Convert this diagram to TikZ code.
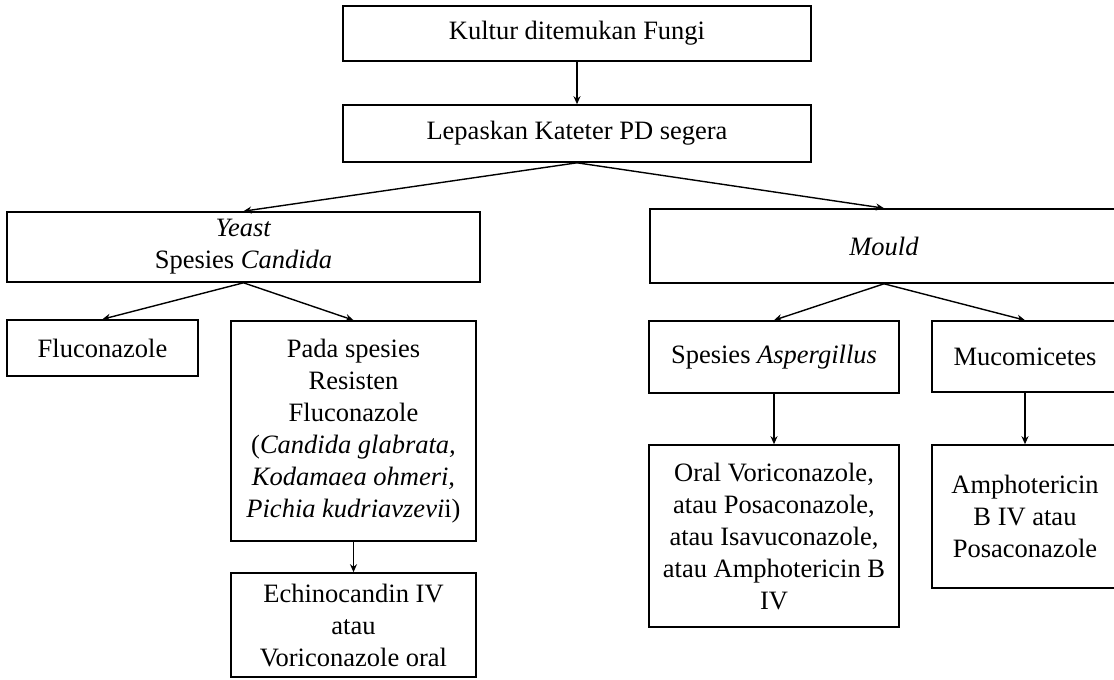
\documentclass[tikz,border=0pt]{standalone}
\usepackage{fontspec}
\setmainfont{Liberation Serif}
\usetikzlibrary{arrows.meta}
\tikzset{
  box/.style={draw=black, line width=1.6pt, inner sep=0pt, align=center, font=\fontsize{26.5}{32}\selectfont},
  conn/.style={draw=black, line width=1.4pt, -{Stealth[length=8pt,width=7pt]}}
}
\begin{document}
\begin{tikzpicture}[x=1pt,y=-1pt]
\useasboundingbox (0,0) rectangle (1114,680);
\node[box, minimum width=468pt, minimum height=55pt] (top) at (577,33.5) {Kultur ditemukan Fungi};
\node[box, minimum width=468pt, minimum height=57pt] (lep) at (577,133.5) {Lepaskan Kateter PD segera};
\node[box, minimum width=473pt, minimum height=70pt] (yeast) at (243.5,247) {\textit{Yeast}\\Spesies \textit{Candida}};
\node[box, minimum width=468pt, minimum height=74pt] (mould) at (884,246) {\textit{Mould}};
\node[box, minimum width=191pt, minimum height=56pt] (fluc) at (102.5,348) {Fluconazole};
\node[box, minimum width=245pt, minimum height=220pt] (pada) at (353.5,431) {Pada spesies\\Resisten\\Fluconazole\\(\textit{Candida glabrata,}\\\textit{Kodamaea ohmeri,}\\\textit{Pichia kudriavzevi}i)};
\node[box, minimum width=245pt, minimum height=104pt] (echi) at (353.5,625) {Echinocandin IV\\atau\\Voriconazole oral};
\node[box, minimum width=250pt, minimum height=72pt] (asp) at (774,357) {Spesies \textit{Aspergillus}};
\node[box, minimum width=186pt, minimum height=71pt] (muc) at (1025,356.5) {Mucomicetes};
\node[box, minimum width=250pt, minimum height=182pt] (oral) at (774,536) {Oral Voriconazole,\\atau Posaconazole,\\atau Isavuconazole,\\atau Amphotericin B\\IV};
\node[box, minimum width=186pt, minimum height=143pt] (amph) at (1025,516.5) {Amphotericin\\B IV atau\\Posaconazole};
\draw[conn] (top) -- (lep);
\draw[conn] (lep.south) -- (yeast.north);
\draw[conn] (lep.south) -- (mould.north);
\draw[conn] (yeast.south) -- (fluc.north);
\draw[conn] (yeast.south) -- (pada.north);
\draw[conn] (pada) -- (echi);
\draw[conn] (mould.south) -- (asp.north);
\draw[conn] (mould.south) -- (muc.north);
\draw[conn] (asp) -- (oral);
\draw[conn] (muc) -- (amph);
\end{tikzpicture}
\end{document}
